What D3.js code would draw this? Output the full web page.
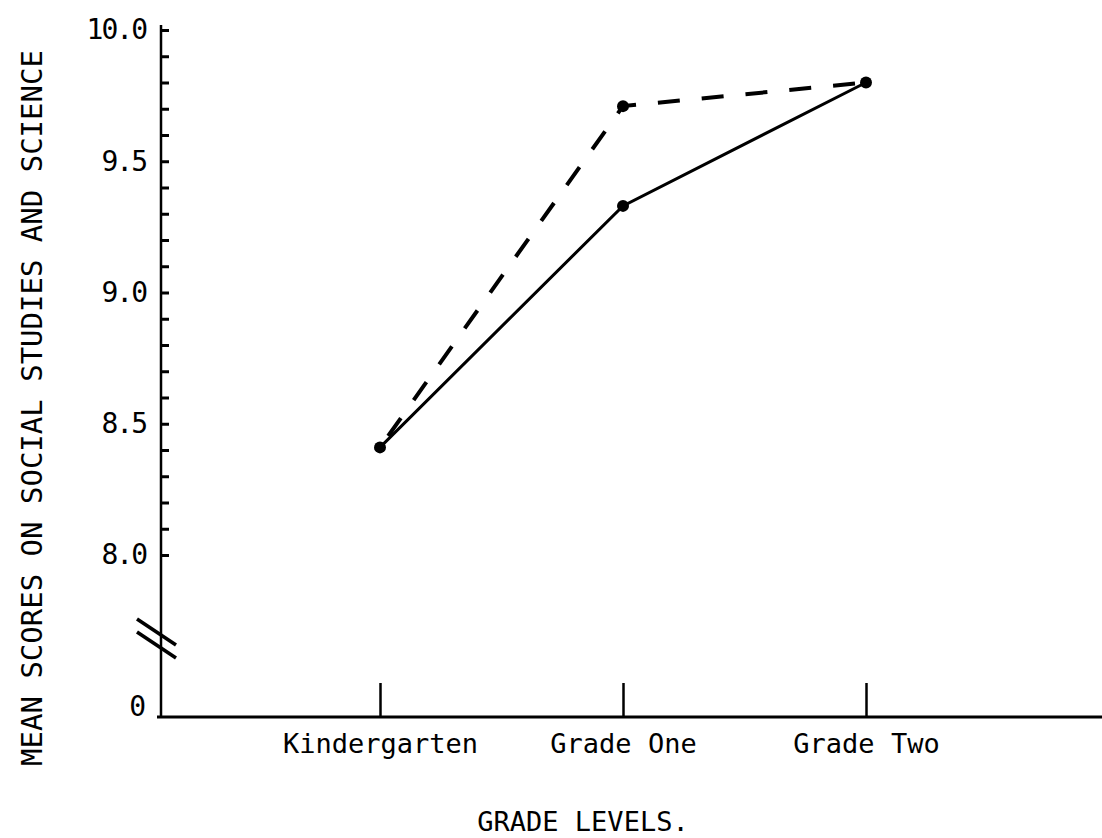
<!DOCTYPE html>
<html>
<head>
<meta charset="utf-8">
<script src="https://cdn.jsdelivr.net/npm/d3@7"></script>
<style>
  body { margin: 0; background: #fff; }
  text { font-family: "DejaVu Sans Mono", "Liberation Mono", monospace; fill: #000; }
</style>
</head>
<body>
<svg id="chart"></svg>
<script>
var width = 1102,
	height = 838;

// grade levels along the bottom
var grades = ["Kindergarten", "Grade One", "Grade Two"];
// mean scores, solid line and dashed line
var solidScores = [8.41, 9.33, 9.80];
var dashedScores = [8.41, 9.71, 9.80];
// labelled ticks on the y axis
var yLabelTicks = [8.0, 8.5, 9.0, 9.5, 10.0];
var breakLabel = "0";

var axisX = 161,   // where the y axis sits
	axisY = 717;   // where the x axis sits (the "0" level)

var svg = d3.select('#chart')
	.attr('width', width)
	.attr('height', height);

var x = d3.scalePoint()
	.domain(grades)
	.range([380, 866]);

var y = d3.scaleLinear()
	.domain([8, 10])
	.range([555, 30]);

// y axis: minor ticks every 0.1, labels every 0.5
var minorTicks = d3.range(80, 101).map(d => d / 10);
var yAxis = g => g
	.attr('transform', 'translate(' + axisX + ',0)')
	.call(d3.axisLeft(y)
		.tickValues(minorTicks)
		.tickSize(-8)
		.tickPadding(15)
		.tickFormat(d => yLabelTicks.some(v => Math.abs(v - d) < 1e-6) ? d3.format('.1f')(d) : ''))
	.call(g => g.select('.domain').remove())
	.call(g => g.selectAll('.tick line')
		.attr('stroke', '#000')
		.attr('stroke-width', 3))
	.call(g => g.selectAll('.tick text')
		.attr('font-size', 28)
		.attr('letter-spacing', -2)
		.attr('font-family', '"DejaVu Sans Mono", monospace')
		.attr('fill', '#000'));

svg.append('g').call(yAxis);

// axis lines
svg.append('line')
	.attr('x1', axisX).attr('x2', axisX)
	.attr('y1', y(10) - 5).attr('y2', axisY)
	.attr('stroke', '#000')
	.attr('stroke-width', 2.5);

svg.append('line')
	.attr('x1', axisX - 4).attr('x2', width)
	.attr('y1', axisY).attr('y2', axisY)
	.attr('stroke', '#000')
	.attr('stroke-width', 3);

// break marks on the y axis
svg.append('g')
	.selectAll('line')
	.data([0, 13])
	.join('line')
		.attr('x1', axisX - 24)
		.attr('x2', axisX + 15)
		.attr('y1', d => 619 + d)
		.attr('y2', d => 645 + d)
		.attr('stroke', '#000')
		.attr('stroke-width', 3.5);

// "0" at the bottom of the broken axis
svg.append('text')
	.attr('x', axisX - 15)
	.attr('y', axisY - 1)
	.attr('text-anchor', 'end')
	.attr('font-size', 28)
	.text(breakLabel);

// x axis ticks and labels
var xAxis = g => g
	.attr('transform', 'translate(0,' + axisY + ')')
	.call(d3.axisBottom(x).tickSize(-34).tickPadding(14))
	.call(g => g.select('.domain').remove())
	.call(g => g.selectAll('.tick line')
		.attr('stroke', '#000')
		.attr('stroke-width', 2.5))
	.call(g => g.selectAll('.tick text')
		.attr('y', 36)
		.attr('dy', 0)
		.attr('font-size', 27)
		.attr('font-family', '"DejaVu Sans Mono", monospace')
		.attr('fill', '#000'));

svg.append('g').call(xAxis);

// axis titles
svg.append('text')
	.attr('x', 583)
	.attr('y', 831)
	.attr('text-anchor', 'middle')
	.attr('font-size', 27)
	.text('GRADE LEVELS.');

svg.append('text')
	.attr('transform', 'translate(42,408) rotate(-90)')
	.attr('text-anchor', 'middle')
	.attr('font-size', 29)
	.text('MEAN SCORES ON SOCIAL STUDIES AND SCIENCE');

// lines
var line = d3.line()
	.x(d => x(d.grade))
	.y(d => y(d.score));

var solidPts = grades.map((g, i) => ({grade: g, score: solidScores[i]}));
var dashedPts = grades.map((g, i) => ({grade: g, score: dashedScores[i]}));

svg.append('path')
	.attr('d', line(dashedPts))
	.attr('fill', 'none')
	.attr('stroke', '#000')
	.attr('stroke-width', 4)
	.attr('stroke-dasharray', '22,22')
	.attr('stroke-dashoffset', -14);

svg.append('path')
	.attr('d', line(solidPts))
	.attr('fill', 'none')
	.attr('stroke', '#000')
	.attr('stroke-width', 3);

// data points
svg.append('g')
	.selectAll('circle')
	.data(solidPts.concat(dashedPts.slice(1, 2)))
	.join('circle')
		.attr('cx', d => x(d.grade))
		.attr('cy', d => y(d.score))
		.attr('r', 6)
		.attr('fill', '#000');
</script>
</body>
</html>
